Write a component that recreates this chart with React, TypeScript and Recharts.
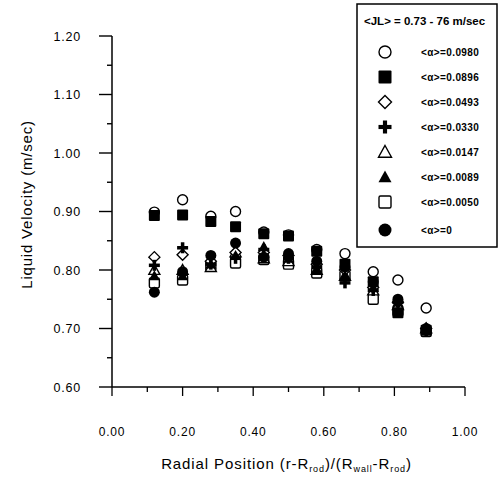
import React from 'react'
import { ScatterChart, Scatter, XAxis, YAxis, Label } from 'recharts'

// radial positions of the measurement stations
const radialPos = [0.12, 0.2, 0.28, 0.35, 0.43, 0.5, 0.58, 0.66, 0.74, 0.81, 0.89]

// liquid velocity (m/sec) for each void fraction
const alpha0980 = [0.899, 0.92, 0.892, 0.9, 0.865, 0.86, 0.835, 0.828, 0.797, 0.783, 0.735]
const alpha0896 = [0.893, 0.894, 0.883, 0.874, 0.862, 0.858, 0.832, 0.81, 0.78, 0.727, 0.697]
const alpha0493 = [0.822, 0.826, 0.815, 0.83, 0.83, 0.825, 0.81, 0.8, 0.77, 0.745, 0.7]
const alpha0330 = [0.808, 0.838, 0.81, 0.82, 0.835, 0.82, 0.805, 0.778, 0.765, 0.745, 0.695]
const alpha0147 = [0.8, 0.8, 0.805, 0.83, 0.82, 0.815, 0.8, 0.79, 0.765, 0.74, 0.7]
const alpha0089 = [0.79, 0.79, 0.81, 0.825, 0.84, 0.82, 0.8, 0.79, 0.77, 0.745, 0.7]
const alpha0050 = [0.778, 0.783, 0.807, 0.812, 0.818, 0.81, 0.795, 0.79, 0.75, 0.73, 0.695]
const alpha0000 = [0.762, 0.797, 0.825, 0.846, 0.822, 0.828, 0.815, 0.805, 0.78, 0.75, 0.7]

const xTicks = [0, 0.1, 0.2, 0.3, 0.4, 0.5, 0.6, 0.7, 0.8, 0.9, 1.0]
const yTicks = [0.6, 0.65, 0.7, 0.75, 0.8, 0.85, 0.9, 0.95, 1.0, 1.05, 1.1, 1.15, 1.2]

const FONT = 'Arial, "Liberation Sans", sans-serif'

type Kind = 'openCircle' | 'filledSquare' | 'openDiamond' | 'plus' | 'openTriangle' | 'filledTriangle' | 'openSquare' | 'filledCircle'

const series: Array<{ name: string; kind: Kind; values: number[] }> = [
  { name: '<α>=0.0980', kind: 'openCircle', values: alpha0980 },
  { name: '<α>=0.0896', kind: 'filledSquare', values: alpha0896 },
  { name: '<α>=0.0493', kind: 'openDiamond', values: alpha0493 },
  { name: '<α>=0.0330', kind: 'plus', values: alpha0330 },
  { name: '<α>=0.0147', kind: 'openTriangle', values: alpha0147 },
  { name: '<α>=0.0089', kind: 'filledTriangle', values: alpha0089 },
  { name: '<α>=0.0050', kind: 'openSquare', values: alpha0050 },
  { name: '<α>=0', kind: 'filledCircle', values: alpha0000 },
]

// draw order so the filled markers end up on top like the scan
const drawOrder: Kind[] = ['openCircle', 'openSquare', 'openTriangle', 'openDiamond', 'filledTriangle', 'plus', 'filledCircle', 'filledSquare']

function marker(kind: Kind, cx: number, cy: number, s: number) {
  const h = s / 2
  const sw = 1.4
  switch (kind) {
    case 'openCircle':
      return <circle cx={cx} cy={cy} r={h - 0.5} fill="#fff" stroke="#000" strokeWidth={sw} />
    case 'filledCircle':
      return <circle cx={cx} cy={cy} r={h} fill="#000" />
    case 'filledSquare':
      return <rect x={cx - h} y={cy - h} width={s} height={s} rx={1} fill="#000" />
    case 'openSquare':
      return <rect x={cx - h + 0.5} y={cy - h + 0.5} width={s - 1} height={s - 1} rx={1.5} fill="#fff" stroke="#000" strokeWidth={sw} />
    case 'openDiamond':
      return <polygon points={`${cx},${cy - h} ${cx + h},${cy} ${cx},${cy + h} ${cx - h},${cy}`} fill="#fff" stroke="#000" strokeWidth={sw} />
    case 'plus': {
      const w = s * 0.32
      return (
        <g fill="#000">
          <rect x={cx - w / 2} y={cy - h} width={w} height={s} />
          <rect x={cx - h} y={cy - w / 2} width={s} height={w} />
        </g>
      )
    }
    case 'openTriangle':
      return <polygon points={`${cx},${cy - h} ${cx + h},${cy + h * 0.8} ${cx - h},${cy + h * 0.8}`} fill="#fff" stroke="#000" strokeWidth={sw} />
    case 'filledTriangle':
      return <polygon points={`${cx},${cy - h} ${cx + h},${cy + h * 0.8} ${cx - h},${cy + h * 0.8}`} fill="#000" />
  }
}

const XTick = ({ x, y, payload }: any) => {
  const major = Math.round(payload.value * 10) % 2 === 0
  return (
    <g>
      <line x1={x} y1={y} x2={x} y2={y + (major ? 9 : 5)} stroke="#000" strokeWidth={1.3} />
      {major && (
        <text x={x} y={y + 49} textAnchor="middle" fontSize={12} letterSpacing={0.8} fontFamily={FONT} fill="#000">
          {payload.value.toFixed(2)}
        </text>
      )}
    </g>
  )
}

const YTick = ({ x, y, payload }: any) => {
  const major = Math.round(payload.value * 20) % 2 === 0
  return (
    <g>
      <line x1={x - (major ? 13 : 5)} y1={y} x2={x} y2={y} stroke="#000" strokeWidth={1.4} />
      {major && (
        <text x={x - 31} y={y} dy="0.36em" textAnchor="end" fontSize={12.5} letterSpacing={0.8} fontFamily={FONT} fill="#000">
          {payload.value.toFixed(2)}
        </text>
      )}
    </g>
  )
}

const XTitle = ({ viewBox }: any) => {
  const cx = viewBox.x + viewBox.width / 2 - 2
  return (
    <text x={cx} y={viewBox.y + 82} textAnchor="middle" fontSize={15} letterSpacing={0.9} fontFamily={FONT} fill="#000">
      Radial Position (r-R<tspan fontSize={9} dy={3}>rod</tspan>
      <tspan dy={-3}>)/(R</tspan><tspan fontSize={9} dy={3}>wall</tspan>
      <tspan dy={-3}>-R</tspan><tspan fontSize={9} dy={3}>rod</tspan>
      <tspan dy={-3}>)</tspan>
    </text>
  )
}

const YTitle = ({ viewBox }: any) => {
  const cx = 26
  const cy = viewBox.y + viewBox.height / 2 - 7
  return (
    <text x={cx} y={cy} transform={`rotate(-90 ${cx} ${cy})`} textAnchor="middle" dominantBaseline="central" fontSize={15} letterSpacing={0.8} fontFamily={FONT} fill="#000">
      Liquid Velocity (m/sec)
    </text>
  )
}

function Legend() {
  const rowY = [52, 77, 102, 127, 152, 177, 202, 230]
  return (
    <svg width={499} height={477} style={{ position: 'absolute', left: 0, top: 0, pointerEvents: 'none' }}>
      <rect x={357} y={4} width={140} height={243} fill="#fff" stroke="#000" strokeWidth={1.5} />
      <text x={364} y={25} fontSize={11.5} fontWeight="bold" fontFamily={FONT} fill="#000">
        {'<JL> = 0.73 - 76 m/sec'}
      </text>
      {series.map((s, i) => (
        <g key={s.name}>
          {marker(s.kind, 385, rowY[i], 13)}
          <text x={421} y={rowY[i]} dy="0.35em" fontSize={10} fontWeight="bold" letterSpacing={0.4} fontFamily={FONT} fill="#000">
            {s.name}
          </text>
        </g>
      ))}
    </svg>
  )
}

export default function App() {
  return (
    <div style={{ position: 'absolute', left: 0, top: 0, width: 499, height: 477, background: '#fff' }}>
      <ScatterChart width={499} height={477} margin={{ top: 36, right: 34, bottom: 30, left: 50 }}>
        <XAxis
          type="number"
          dataKey="x"
          domain={[0, 1]}
          ticks={xTicks}
          interval={0}
          tickSize={0}
          tickMargin={0}
          tick={XTick}
          height={60}
          axisLine={{ stroke: '#000', strokeWidth: 1.5 }}
        >
          <Label content={XTitle} />
        </XAxis>
        <YAxis
          type="number"
          dataKey="y"
          domain={[0.6, 1.2]}
          ticks={yTicks}
          interval={0}
          tickSize={0}
          tickMargin={0}
          tick={YTick}
          width={62}
          axisLine={{ stroke: '#000', strokeWidth: 1.5 }}
        >
          <Label content={YTitle} />
        </YAxis>
        {drawOrder.map((k) => {
          const s = series.find((d) => d.kind === k)!
          const data = radialPos.map((x, i) => ({ x, y: s.values[i] }))
          return (
            <Scatter
              key={k}
              name={s.name}
              data={data}
              isAnimationActive={false}
              shape={(p: any) => marker(k, p.cx, p.cy, 11)}
            />
          )
        })}
      </ScatterChart>
      <Legend />
    </div>
  )
}
